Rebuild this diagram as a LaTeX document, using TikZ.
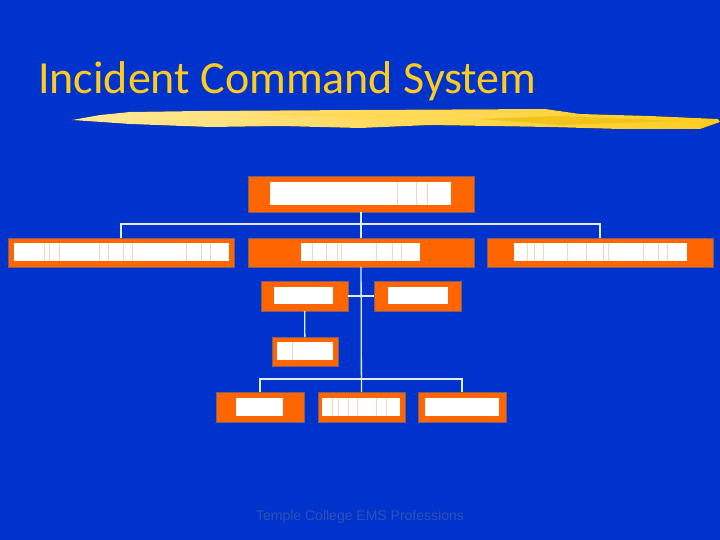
\documentclass[tikz,border=0pt]{standalone}
\usepackage{fontspec}
\setmainfont{Carlito}
\newfontfamily\footfont{Liberation Sans}
\definecolor{slidecolor}{RGB}{0, 51, 204}
\definecolor{boxcolor}{RGB}{255, 102, 0}
\definecolor{edgecolor}{RGB}{125, 95, 105}
\definecolor{titlecolor}{RGB}{255, 204, 30}
\definecolor{linecolor}{RGB}{225, 236, 255}
\definecolor{sepcolor}{RGB}{245, 215, 190}
\definecolor{footcolor}{RGB}{50, 80, 180}
\tikzset{
    orgbox/.style={draw=edgecolor, line width=0.8pt, fill=boxcolor, inner sep=0pt, outer sep=0pt},
    blankbar/.style={fill=white, inner sep=0pt, outer sep=0pt},
    orgline/.style={draw=linecolor, line width=1.3pt},
    sepline/.style={draw=sepcolor, line width=0.8pt},
}
\begin{document}
\begin{tikzpicture}[x=1pt, y=-1pt]
        \useasboundingbox[fill=slidecolor] (0, 0) rectangle (720, 540);

        \node[anchor=base west, text=titlecolor, inner sep=0pt, font=\fontsize{46}{46}\selectfont] (title) at (38, 94) {Incident Command System};
        \node[anchor=base, text=footcolor, inner sep=0pt, font=\footfont\fontsize{14}{14}\selectfont] (footer) at (360, 520) {Temple College EMS Professions};

        % Brush stroke {{{
        \fill[left color=titlecolor!45!white, right color=titlecolor]
                (72, 120) -- (100, 115) -- (130, 112) -- (200, 111) -- (360, 110) -- (545, 109)
                -- (580, 114) -- (650, 116) -- (718, 119) -- (720, 122) -- (700, 129) -- (620, 129)
                -- (550, 127) -- (430, 125) -- (360, 128) -- (280, 126) -- (210, 127) -- (130, 124) -- cycle;
        \fill[titlecolor!75!white] (250, 114) -- (420, 112) -- (540, 116) -- (400, 120) -- cycle;
        \fill[titlecolor!95!black] (480, 119) -- (560, 116) -- (680, 121) -- (560, 125) -- cycle;
        % }}}

        \coordinate (upperbar) at (361, 224);
        \coordinate (lowerbar) at (361, 379);

        % Boxes {{{
        \node[orgbox, minimum width=226, minimum height=36] (command) at (361, 194) {};
        \node[orgbox, minimum width=226, minimum height=29] (finance) at (121, 252.5) {};
        \node[orgbox, minimum width=226, minimum height=29] (operations) at (361, 252.5) {};
        \node[orgbox, minimum width=226, minimum height=29] (planning) at (600, 252.5) {};
        \node[orgbox, minimum width=87, minimum height=30] (safety) at (304.5, 296) {};
        \node[orgbox, minimum width=87, minimum height=30] (liaison) at (417.5, 296) {};
        \node[orgbox, minimum width=66, minimum height=29] (staging) at (305, 351.5) {};
        \node[orgbox, minimum width=88, minimum height=30] (triage) at (260, 407) {};
        \node[orgbox, minimum width=87, minimum height=30] (treatment) at (361.5, 407) {};
        \node[orgbox, minimum width=88, minimum height=30] (transport) at (462, 407) {};
        % }}}

        % Blanked labels {{{
        \node[blankbar, minimum width=181, minimum height=23] (commandbar) at (360.5, 193.5) {};
        \node[blankbar, minimum width=215, minimum height=18] (financebar) at (121.5, 252) {};
        \node[blankbar, minimum width=119, minimum height=18] (operationsbar) at (360.5, 252) {};
        \node[blankbar, minimum width=173, minimum height=18] (planningbar) at (600.5, 252) {};
        \node[blankbar, minimum width=59, minimum height=17] (safetybar) at (303.5, 295.5) {};
        \node[blankbar, minimum width=60, minimum height=17] (liaisonbar) at (418, 295.5) {};
        \node[blankbar, minimum width=56, minimum height=18] (stagingbar) at (305, 351) {};
        \node[blankbar, minimum width=47, minimum height=18] (triagebar) at (259.5, 407) {};
        \node[blankbar, minimum width=78, minimum height=18] (treatmentbar) at (361, 407) {};
        \node[blankbar, minimum width=74, minimum height=18] (transportbar) at (462, 407) {};

        \foreach \x in {397, 416, 427} \draw[sepline] (\x, 182) -- (\x, 205);
        \foreach \x in {44, 49, 59, 99, 108, 123, 132, 186, 201, 210} \draw[sepline] (\x, 243) -- (\x, 261);
        \foreach \x in {312, 326, 337, 341, 376, 392, 401} \draw[sepline] (\x, 243) -- (\x, 261);
        \foreach \x in {527, 534, 543, 567, 586, 603, 608, 643, 658, 667} \draw[sepline] (\x, 243) -- (\x, 261);
        \draw[sepline] (292, 342) -- (292, 360);
        \foreach \x in {332, 338, 348, 357, 376, 386} \draw[sepline] (\x, 398) -- (\x, 416);
        % }}}

        % Connectors
        \draw[orgline] (command) -- (operations);
        \draw[orgline] (finance.north) |- (upperbar) -| (planning.north);
        \draw[orgline] (operations) -- (treatment);
        \draw[orgline] (safety) -- (liaison);
        \draw[orgline] (safety) -- (staging);
        \draw[orgline] (triage.north) |- (lowerbar) -| (transport.north);
\end{tikzpicture}
\end{document}
